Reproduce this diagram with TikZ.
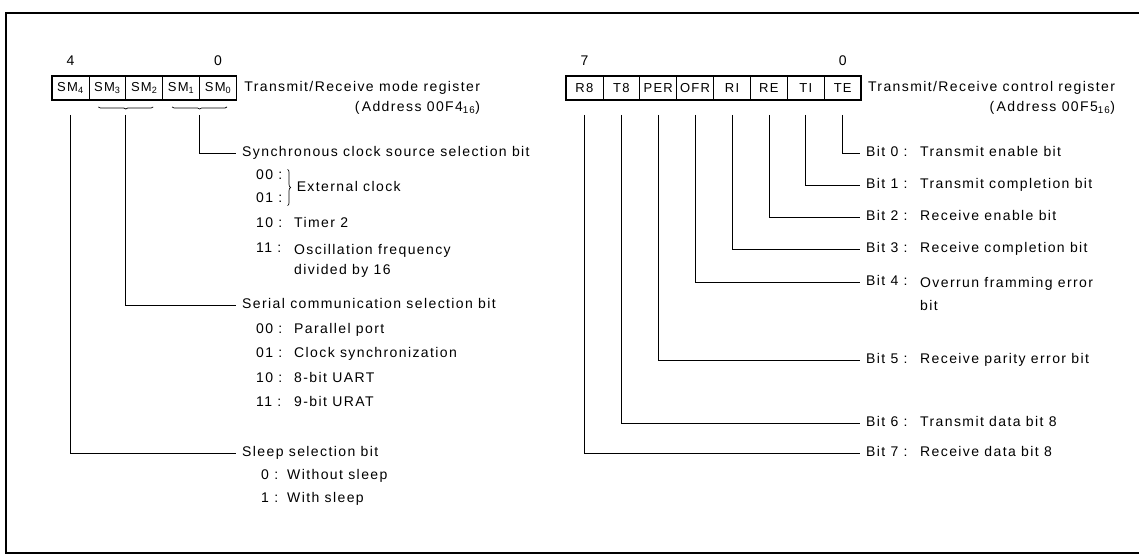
\documentclass[tikz,border=0pt]{standalone}
\usepackage{fontspec}
\setmainfont{Liberation Sans}[LetterSpace=10]
\usepackage{tikz}
\usetikzlibrary{positioning, fit, calc, decorations.pathreplacing}

\tikzset{
  regcell/.style={draw, line width=0.6pt, outer sep=0pt, inner sep=0pt,
    minimum width=36.9pt, minimum height=24pt, font=\fontsize{13}{15}\selectfont},
  regbox/.style={draw, line width=1.4pt, inner sep=0pt},
  bitnum/.style={font=\fontsize{14}{16}\selectfont, inner sep=1pt},
  regtitle/.style={font=\fontsize{14}{17}\selectfont, inner sep=0pt},
  sellabel/.style={anchor=west, inner xsep=6pt, inner ysep=0pt, text height=10pt, text depth=3pt,
    font=\fontsize{14}{17}\selectfont},
  selcode/.style={anchor=west, inner sep=0pt, text height=10pt, text depth=3pt,
    font=\fontsize{14}{17}\selectfont},
  seldesc/.style={selcode},
  seltwo/.style={anchor=north west, inner sep=0pt, align=left, font=\fontsize{14}{17}\selectfont},
  lead/.style={line width=0.7pt},
  selbrace/.style={line width=0.7pt, decorate, decoration={brace, amplitude=3pt}},
  underbrace/.style={line width=0.7pt, decorate, decoration={brace, mirror, amplitude=2pt}},
  frameline/.style={line width=1.6pt}
}

\begin{document}
\begin{tikzpicture}[x=1pt, y=-1pt]
  \useasboundingbox (0,0) rectangle (1139,556);
  \draw[frameline] (1139,13) -| (6,553) -- (1139,553);

  % transmit/receive mode register
  \node[regcell] (sm4) at (70.4,88) {SM\textsubscript{4}};
  \node[regcell, right=0pt of sm4] (sm3) {SM\textsubscript{3}};
  \node[regcell, right=0pt of sm3] (sm2) {SM\textsubscript{2}};
  \node[regcell, right=0pt of sm2] (sm1) {SM\textsubscript{1}};
  \node[regcell, right=0pt of sm1] (sm0) {SM\textsubscript{0}};
  \node[regbox, fit=(sm4)(sm0)] (modereg) {};
  \node[bitnum, above=9pt of sm4] (msb4) {4};
  \node[bitnum, above=9pt of sm0] (lsb0) {0};
  \node[regtitle, right=7pt of modereg] (modetitle) {Transmit/Receive mode register};
  \node[regtitle, anchor=east] (modeaddr) at ([yshift=-20pt]modetitle.east) {(\,Address 00F4\textsubscript{16})};

  \node[sellabel] (sync) at (236,153) {Synchronous clock source selection bit};
  \node[selcode] (sc00) at (256,176) {00 :};
  \node[selcode] (sc01) at (256,199) {01 :};
  \draw[selbrace] ([xshift=5pt]sc00.north east) -- ([xshift=5pt]sc01.south east);
  \node[seldesc] (extclk) at ($(sc00.east)!.5!(sc01.east)+(14pt,0)$) {External clock};
  \node[selcode] (sc10) at (256,224) {10 :};
  \node[seldesc] (sd10) at (294,224) {Timer 2};
  \node[selcode] (sc11) at (256,249) {11 :};
  \node[seltwo] (sd11) at (294,244) {Oscillation frequency\\[3pt]divided by 16};

  \node[sellabel] (serial) at (236,305) {Serial communication selection bit};
  \node[selcode] (sr00) at (256,330) {00 :};
  \node[seldesc] (srd00) at (294,330) {Parallel port};
  \node[selcode] (sr01) at (256,354) {01 :};
  \node[seldesc] (srd01) at (294,354) {Clock synchronization};
  \node[selcode] (sr10) at (256,379) {10 :};
  \node[seldesc] (srd10) at (294,379) {8-bit UART};
  \node[selcode] (sr11) at (256,403) {11 :};
  \node[seldesc] (srd11) at (294,403) {9-bit URAT};

  \node[sellabel] (sleep) at (236,453) {Sleep selection bit};
  \node[selcode] (sl0) at (261,476) {0 :};
  \node[seldesc] (sld0) at (287,476) {Without sleep};
  \node[selcode] (sl1) at (261,499) {1 :};
  \node[seldesc] (sld1) at (287,499) {With sleep};

  \draw[underbrace] ([xshift=-9pt,yshift=-7pt]sm1.south) -- ([xshift=9pt,yshift=-7pt]sm0.south);
  \draw[underbrace] ([xshift=-9pt,yshift=-7pt]sm3.south) -- ([xshift=9pt,yshift=-7pt]sm2.south);
  \draw[lead] ([yshift=-15pt]sm1.south east) |- (sync.west);
  \draw[lead] ([yshift=-15pt]sm3.south east) |- (serial.west);
  \draw[lead] ([yshift=-15pt]sm4.south) |- (sleep.west);

  % transmit/receive control register
  \node[regcell] (r8) at (584.4,88) {R8};
  \node[regcell, right=0pt of r8] (t8) {T8};
  \node[regcell, right=0pt of t8] (per) {PER};
  \node[regcell, right=0pt of per] (ofr) {OFR};
  \node[regcell, right=0pt of ofr] (ri) {RI};
  \node[regcell, right=0pt of ri] (re) {RE};
  \node[regcell, right=0pt of re] (ti) {TI};
  \node[regcell, right=0pt of ti] (te) {TE};
  \node[regbox, fit=(r8)(te)] (ctrlreg) {};
  \node[bitnum, above=9pt of r8] (msb7) {7};
  \node[bitnum, above=9pt of te] (lsb0c) {0};
  \node[regtitle, right=6pt of ctrlreg] (ctrltitle) {Transmit/Receive control register};
  \node[regtitle, anchor=east] (ctrladdr) at ([yshift=-20pt]ctrltitle.east) {(\,Address 00F5\textsubscript{16})};

  \node[sellabel] (b0) at (860,153) {Bit 0 :};
  \node[seldesc] (d0) at (920,153) {Transmit enable bit};
  \node[sellabel] (b1) at (860,185) {Bit 1 :};
  \node[seldesc] (d1) at (920,185) {Transmit completion bit};
  \node[sellabel] (b2) at (860,217) {Bit 2 :};
  \node[seldesc] (d2) at (920,217) {Receive enable bit};
  \node[sellabel] (b3) at (860,249) {Bit 3 :};
  \node[seldesc] (d3) at (920,249) {Receive completion bit};
  \node[sellabel] (b4) at (860,282) {Bit 4 :};
  \node[seltwo] (d4) at (920,277) {Overrun framming error\\[6pt]bit};
  \node[sellabel] (b5) at (860,360) {Bit 5 :};
  \node[seldesc] (d5) at (920,360) {Receive parity error bit};
  \node[sellabel] (b6) at (860,423) {Bit 6 :};
  \node[seldesc] (d6) at (920,423) {Transmit data bit 8};
  \node[sellabel] (b7) at (860,453) {Bit 7 :};
  \node[seldesc] (d7) at (920,453) {Receive data bit 8};

  \draw[lead] ([yshift=-15pt]te.south) |- (b0.west);
  \draw[lead] ([yshift=-15pt]ti.south) |- (b1.west);
  \draw[lead] ([yshift=-15pt]re.south) |- (b2.west);
  \draw[lead] ([yshift=-15pt]ri.south) |- (b3.west);
  \draw[lead] ([yshift=-15pt]ofr.south) |- (b4.west);
  \draw[lead] ([yshift=-15pt]per.south) |- (b5.west);
  \draw[lead] ([yshift=-15pt]t8.south) |- (b6.west);
  \draw[lead] ([yshift=-15pt]r8.south) |- (b7.west);
\end{tikzpicture}
\end{document}
